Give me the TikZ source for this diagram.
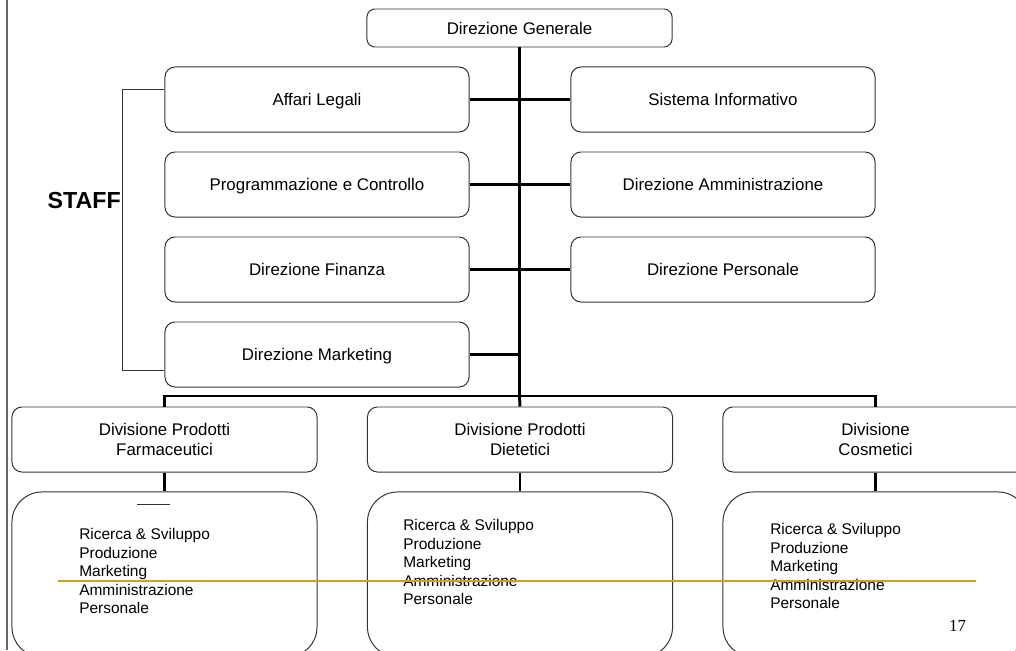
\documentclass[tikz,border=0pt]{standalone}
\usepackage{fontspec}
\setmainfont{Liberation Sans}
\newfontfamily\numfont{Liberation Serif}
\definecolor{oro}{RGB}{212,160,23}

\begin{document}
\begin{tikzpicture}[x=0.025cm,y=-0.025cm,
    casella/.style={draw=black!80,line width=0.7pt,rounded corners=0.25cm,minimum width=7.6cm,minimum height=1.625cm,inner sep=0pt},
    ufficio/.style={casella,text height=8.6pt,text depth=0pt,font=\fontsize{12}{14}\selectfont},
    divisione/.style={casella,minimum width=7.625cm,align=center,font=\fontsize{12}{14.2}\selectfont},
    reparti/.style={draw=black!80,line width=0.7pt,rounded corners=0.75cm,minimum width=7.625cm,minimum height=4.125cm},
    elenco/.style={anchor=north west,align=left,inner sep=0pt,font=\fontsize{11}{13.2}\selectfont},
    linea/.style={line width=2.1pt},
    graffa/.style={draw=black!80,line width=0.7pt}]
    \useasboundingbox (0,0) rectangle (1016,650);
    \draw[black!60,line width=1.4pt] (7,0) -- (7,650);

    \node[ufficio,minimum width=7.625cm,minimum height=0.95cm,rounded corners=0.2cm] (dg) at (519.5,28) {Direzione Generale};
    \node[ufficio] (legali) at (317,99.5) {Affari Legali};
    \node[ufficio] (prog) at (317,184.5) {Programmazione e Controllo};
    \node[ufficio] (fin) at (317,269.5) {Direzione Finanza};
    \node[ufficio] (mkt) at (317,354.5) {Direzione Marketing};
    \node[ufficio] (sis) at (723,99.5) {Sistema Informativo};
    \node[ufficio] (amm) at (723,184.5) {Direzione Amministrazione};
    \node[ufficio] (pers) at (723,269.5) {Direzione Personale};

    \node[divisione] (farm) at (164.5,439.5) {Divisione Prodotti\\ Farmaceutici};
    \node[divisione] (diet) at (520,439.5) {Divisione Prodotti\\Dietetici};
    \node[divisione] (cosm) at (875.5,439.5) {Divisione\\Cosmetici};
    \node[reparti] (rfarm) at (164.5,574.5) {};
    \node[reparti] (rdiet) at (520,574.5) {};
    \node[reparti] (rcosm) at (875.5,574.5) {};

    \coordinate (nodo) at (519.5,396);
    \draw[linea] (dg.south) -- (nodo);
    \draw[linea] (legali) -- (sis);
    \draw[linea] (prog) -- (amm);
    \draw[linea] (fin) -- (pers);
    \draw[linea] (mkt.east) -- (mkt.east -| dg.south);
    \draw[linea] (farm.north) -- (farm.north |- nodo) -- (cosm.north |- nodo) -- (cosm.north);
    \draw[linea] (nodo) -- (diet.north);
    \draw[linea] (farm) -- (rfarm);
    \draw[linea] (diet) -- (rdiet);
    \draw[linea] (cosm) -- (rcosm);

    \draw[graffa] ([yshift=0.2625cm]legali.west) -- ++(-42,0) |- ([yshift=-0.3875cm]mkt.west);
    \node[anchor=base east,inner sep=0pt,font=\bfseries\fontsize{16.5}{19}\selectfont] (staff) at (121,208) {STAFF};

    \node[elenco] (lfarm) at (79,528) {Ricerca \& Sviluppo\\Produzione\\Marketing\\Amministrazione\\Personale};
    \node[elenco] (ldiet) at (403,519) {Ricerca \& Sviluppo\\Produzione\\Marketing\\Amministrazione\\Personale};
    \node[elenco] (lcosm) at (770,523) {Ricerca \& Sviluppo\\Produzione\\Marketing\\Amministrazione\\Personale};
    \draw[graffa] (137,504) -- (170,504);

    \draw[oro,line width=1.4pt] (58,581) -- (976,581);
    \node[anchor=base,inner sep=0pt,font=\numfont\fontsize{12}{14}\selectfont] (pag) at (957.5,631) {17};
\end{tikzpicture}
\end{document}
